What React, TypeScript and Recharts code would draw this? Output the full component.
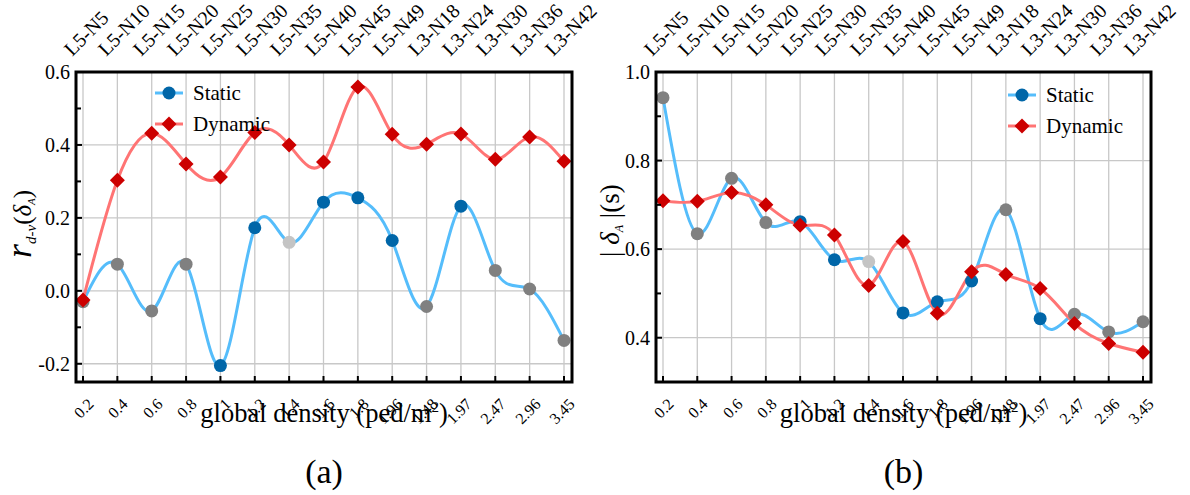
import { LineChart, Line, XAxis, YAxis, CartesianGrid } from 'recharts';
import type { ReactNode } from 'react';

// global density of each scenario (bottom axis) and scenario names (top axis)
const densities = ['0.2', '0.4', '0.6', '0.8', '1', '1.2', '1.4', '1.6', '1.8', '1.96', '1.48', '1.97', '2.47', '2.96', '3.45'];
const scenarios = ['L5-N5', 'L5-N10', 'L5-N15', 'L5-N20', 'L5-N25', 'L5-N30', 'L5-N35', 'L5-N40', 'L5-N45', 'L5-N49', 'L3-N18', 'L3-N24', 'L3-N30', 'L3-N36', 'L3-N42'];

// s = significant, n = not significant, w = weak
const staticLevel = ['n', 'n', 'n', 'n', 's', 's', 'w', 's', 's', 's', 'n', 's', 'n', 'n', 'n'];

// (a) correlation r_{d-v}
const corrStatic = [-0.03, 0.073, -0.055, 0.073, -0.205, 0.173, 0.133, 0.243, 0.255, 0.138, -0.043, 0.232, 0.056, 0.005, -0.136];
const corrDynamic = [-0.025, 0.303, 0.432, 0.348, 0.312, 0.434, 0.4, 0.353, 0.559, 0.429, 0.402, 0.43, 0.361, 0.422, 0.355];

// (b) |delta_A| in seconds
const delayStatic = [0.942, 0.635, 0.76, 0.66, 0.662, 0.576, 0.572, 0.456, 0.481, 0.528, 0.689, 0.443, 0.453, 0.413, 0.436];
const delayDynamic = [0.709, 0.708, 0.728, 0.7, 0.654, 0.632, 0.518, 0.617, 0.455, 0.549, 0.543, 0.511, 0.432, 0.387, 0.367];

const FONT = '"Liberation Serif", "Times New Roman", serif';
const TOP = 72;
const PLOT_H = 310;
const BOTTOM = TOP + PLOT_H;
const CHART_W = 595;
const CHART_H = 495;
const PAD_L = 7;
const PAD_R = 8;

const COLORS = {
  staticLine: '#55bdfb',
  dynamicLine: '#ff7474',
  dynamicDot: '#cc0000',
  grid: '#c8c8c8',
};

const levelColor: Record<string, string> = {
  s: '#0066a8',
  n: '#808080',
  w: '#c4c4c4',
};

const serif = { fontFamily: FONT };

function StaticDot(props: any) {
  const { cx, cy, index } = props;
  if (cx == null || cy == null) return <g key={`s${index}`} />;
  return <circle key={`s${index}`} cx={cx} cy={cy} r={6.5} fill={levelColor[staticLevel[index]]} />;
}

function DiamondDot(props: any) {
  const { cx, cy, index } = props;
  if (cx == null || cy == null) return <g key={`d${index}`} />;
  const s = 7.5;
  return (
    <path
      key={`d${index}`}
      d={`M${cx},${cy - s}L${cx + s},${cy}L${cx},${cy + s}L${cx - s},${cy}Z`}
      fill={COLORS.dynamicDot}
    />
  );
}

// inward tick marks on the bottom axis
function XTick(props: any) {
  const x = Number(props.x);
  return <line x1={x} x2={x} y1={BOTTOM} y2={BOTTOM - 6} stroke="#000" strokeWidth={2} />;
}

// slanted label, drawn as html so the 45 degree turn is kept
function Slanted({ x, y, size, anchor, children }: { x: number; y: number; size: number; anchor: 'start' | 'end'; children: ReactNode }) {
  const base = size * 0.837;
  const style: any = {
    position: 'absolute',
    top: y - base,
    fontFamily: FONT,
    fontSize: size,
    lineHeight: `${size}px`,
    whiteSpace: 'nowrap',
    color: '#000',
    transform: 'rotate(-45deg)',
  };
  if (anchor === 'start') {
    style.left = x;
    style.transformOrigin = `0 ${base}px`;
  } else {
    style.right = 1190 - x;
    style.transformOrigin = `100% ${base}px`;
  }
  return <div style={style}>{children}</div>;
}

interface PanelProps {
  left: number;
  marginLeft: number;
  marginRight: number;
  staticVals: number[];
  dynamicVals: number[];
  domain: [number, number];
  majors: number[];
  minors: number[];
  title: ReactNode;
  letter: string;
  legendX: number;
  legendY: number;
}

function Panel({ left, marginLeft, marginRight, staticVals, dynamicVals, domain, majors, minors, title, letter, legendX, legendY }: PanelProps) {
  const data = densities.map((d, i) => ({
    density: d,
    code: scenarios[i],
    static: staticVals[i],
    dynamic: dynamicVals[i],
  }));
  const isMajor = (v: number) => majors.some(m => Math.abs(m - v) < 1e-9);
  const plotLeft = left + marginLeft;
  const plotRight = left + CHART_W - marginRight;
  const center = (plotLeft + plotRight) / 2;
  // same placement as the point scale of the category axis
  const step = (plotRight - plotLeft - PAD_L - PAD_R) / (densities.length - 1);
  const tickX = densities.map((_, i) => plotLeft + PAD_L + i * step);

  const YTick = (props: any) => {
    const { y, payload } = props;
    const major = isMajor(payload.value);
    return (
      <g>
        <line x1={marginLeft} x2={marginLeft + (major ? 6 : 5)} y1={y} y2={y} stroke="#000" strokeWidth={2} />
        {major && (
          <text x={marginLeft - 6} y={y} dy="0.35em" textAnchor="end" fontSize={20} style={serif} fill="#000">
            {payload.value.toFixed(1)}
          </text>
        )}
      </g>
    );
  };

  return (
    <>
      <div style={{ position: 'absolute', left, top: 0 }}>
        <LineChart
          width={CHART_W}
          height={CHART_H}
          data={data}
          margin={{ top: TOP, right: marginRight, bottom: CHART_H - BOTTOM - 1, left: marginLeft - 1 }}
        >
          <CartesianGrid stroke={COLORS.grid} strokeWidth={1.3} horizontalValues={majors} />
          <XAxis
            dataKey="density"
            type="category"
            padding={{ left: PAD_L, right: PAD_R }}
            height={1}
            interval={0}
            tickLine={false}
            axisLine={false}
            tick={XTick}
          />
          <YAxis
            type="number"
            domain={domain}
            allowDataOverflow
            ticks={[...majors, ...minors].sort((a, b) => a - b)}
            width={1}
            tickSize={0}
            tickMargin={0}
            tickLine={false}
            axisLine={false}
            interval={0}
            tick={YTick}
          />
          <Line
            dataKey="static"
            type="natural"
            stroke={COLORS.staticLine}
            strokeWidth={3}
            dot={StaticDot}
            activeDot={false}
            isAnimationActive={false}
          />
          <Line
            dataKey="dynamic"
            type="natural"
            stroke={COLORS.dynamicLine}
            strokeWidth={3}
            dot={DiamondDot}
            activeDot={false}
            isAnimationActive={false}
          />
        </LineChart>
      </div>
      <svg
        width={1190}
        height={495}
        style={{ position: 'absolute', left: 0, top: 0, pointerEvents: 'none', fontFamily: FONT }}
      >
        <rect x={plotLeft} y={TOP} width={plotRight - plotLeft} height={PLOT_H} fill="none" stroke="#000" strokeWidth={3} />
        {title}
        <text x={center} y={422} textAnchor="middle" fontSize={26.5} style={serif} fill="#000">
          global density (ped/m<tspan fontSize={15} dy={-10}>2</tspan><tspan dy={10}>)</tspan>
        </text>
        <text x={center} y={483} textAnchor="middle" fontSize={34} style={serif} fill="#000">
          {letter}
        </text>
        <g>
          <line x1={legendX} x2={legendX + 28} y1={legendY} y2={legendY} stroke={COLORS.staticLine} strokeWidth={3} />
          <circle cx={legendX + 14} cy={legendY} r={6.5} fill={levelColor.s} />
          <text x={legendX + 38} y={legendY} dy="0.35em" fontSize={21} style={serif} fill="#000">Static</text>
          <line x1={legendX} x2={legendX + 28} y1={legendY + 31} y2={legendY + 31} stroke={COLORS.dynamicLine} strokeWidth={3} />
          <DiamondDot cx={legendX + 14} cy={legendY + 31} index="legend" />
          <text x={legendX + 38} y={legendY + 31} dy="0.35em" fontSize={21} style={serif} fill="#000">Dynamic</text>
        </g>
      </svg>
      {tickX.map((x, i) => (
        <Slanted key={`b${i}`} x={x + 12} y={405} size={16} anchor="end">
          {densities[i]}
        </Slanted>
      ))}
      {tickX.map((x, i) => (
        <Slanted key={`t${i}`} x={x - 11} y={57} size={20} anchor="start">
          {scenarios[i]}
        </Slanted>
      ))}
    </>
  );
}

const corrTitle = (
  <g transform="translate(31, 258) rotate(-90)">
    <text x={0} y={0} style={serif} fill="#000">
      <tspan fontSize={36} fontStyle="italic">r</tspan>
      <tspan fontSize={15} fontStyle="italic" dy={5}>d-v</tspan>
      <tspan fontSize={25} dy={-5}>(</tspan>
      <tspan fontSize={25} fontStyle="italic">δ</tspan>
      <tspan fontSize={11} fontStyle="italic" dy={4}>A</tspan>
      <tspan fontSize={25} dy={-4}>)</tspan>
    </text>
  </g>
);

const delayTitle = (
  <g transform="translate(619, 257) rotate(-90)">
    <text x={0} y={0} style={serif} fill="#000">
      <tspan fontSize={27}>| </tspan>
      <tspan fontSize={27} fontStyle="italic">δ</tspan>
      <tspan fontSize={12} fontStyle="italic" dy={4}>A</tspan>
      <tspan fontSize={27} dy={-4}> |(s)</tspan>
    </text>
  </g>
);

export default function App() {
  return (
    <div style={{ position: 'absolute', left: 0, top: 0, width: 1190, height: 495, background: '#fff', fontFamily: FONT }}>
      <Panel
        left={0}
        marginLeft={76}
        marginRight={23}
        staticVals={corrStatic}
        dynamicVals={corrDynamic}
        domain={[-0.25, 0.6]}
        majors={[-0.2, 0, 0.2, 0.4, 0.6]}
        minors={[-0.1, 0.1, 0.3, 0.5]}
        title={corrTitle}
        letter="(a)"
        legendX={155}
        legendY={93}
      />
      <Panel
        left={595}
        marginLeft={61}
        marginRight={39}
        staticVals={delayStatic}
        dynamicVals={delayDynamic}
        domain={[0.3, 1.0]}
        majors={[0.4, 0.6, 0.8, 1.0]}
        minors={[0.5, 0.7, 0.9]}
        title={delayTitle}
        letter="(b)"
        legendX={1008}
        legendY={95}
      />
    </div>
  );
}
